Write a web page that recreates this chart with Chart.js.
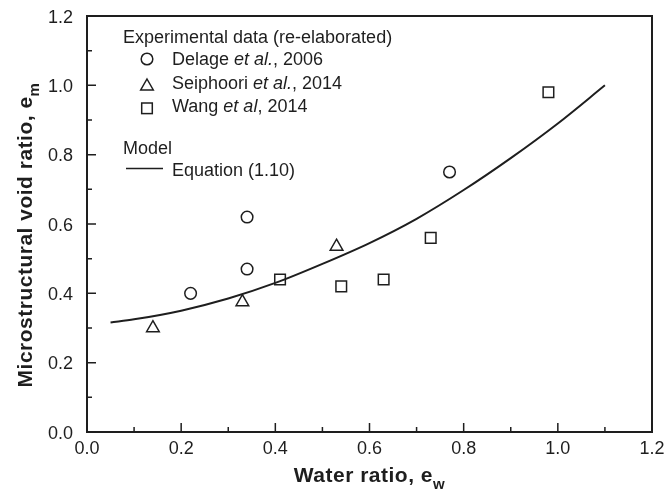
<!DOCTYPE html>
<html>
<head>
<meta charset="utf-8">
<script src="https://cdn.jsdelivr.net/npm/chart.js@4.4.1/dist/chart.umd.min.js"></script>
<style>
  html, body { margin: 0; padding: 0; background: #fff; }
  #wrap { width: 665px; height: 492px; }
</style>
</head>
<body>
<div id="wrap"><canvas id="voidChart"></canvas></div>
<script>
// experimental points
const delageX = [0.22, 0.34, 0.34, 0.77];
const delageY = [0.40, 0.62, 0.47, 0.75];
const seiphooriX = [0.14, 0.33, 0.53];
const seiphooriY = [0.30, 0.375, 0.535];
const wangX = [0.41, 0.54, 0.63, 0.73, 0.98];
const wangY = [0.44, 0.42, 0.44, 0.56, 0.98];

// model curve, Equation (1.10), sampled from the figure
const modelX = [0.05, 0.1, 0.2, 0.3, 0.4, 0.5, 0.6, 0.7, 0.8, 0.9, 1.0, 1.1];
const modelY = [0.316, 0.325, 0.350, 0.385, 0.430, 0.485, 0.545, 0.615, 0.698, 0.790, 0.890, 1.0];

const xTicks = [0.0, 0.2, 0.4, 0.6, 0.8, 1.0, 1.2];
const yTicks = [0.0, 0.2, 0.4, 0.6, 0.8, 1.0, 1.2];
const xMinor = [0.1, 0.3, 0.5, 0.7, 0.9, 1.1];
const yMinor = [0.1, 0.3, 0.5, 0.7, 0.9, 1.1];

const INK = '#1e1e1e';
const FONT = '"Liberation Sans", Arial, sans-serif';

const toPts = (xs, ys) => xs.map((x, i) => ({ x: x, y: ys[i] }));

const markerBase = {
    showLine: false,
    borderColor: INK,
    backgroundColor: '#fff',
    borderWidth: 1.5,
    pointHoverRadius: 6
};

// draws text pieces one after another, some italic
function drawRuns(ctx, runs, x, y, size) {
    runs.forEach(r => {
        ctx.font = (r.italic ? 'italic ' : '') + size + 'px ' + FONT;
        ctx.fillText(r.t, x, y);
        x += ctx.measureText(r.t).width;
    });
}

// bold title + subscript, centred on cx, baseline y
function drawTitle(ctx, main, sub, cx, y) {
    ctx.letterSpacing = '0.5px';
    ctx.font = 'bold 21px ' + FONT;
    const w1 = ctx.measureText(main).width;
    ctx.font = 'bold 15px ' + FONT;
    const w2 = ctx.measureText(sub).width;
    const sx = cx - (w1 + w2) / 2;
    ctx.font = 'bold 21px ' + FONT;
    ctx.fillText(main, sx, y);
    ctx.font = 'bold 15px ' + FONT;
    ctx.fillText(sub, sx + w1, y + 7);
    ctx.letterSpacing = '0px';
}

const framePlugin = {
    id: 'frame',
    afterDraw(chart) {
        const ctx = chart.ctx;
        const a = chart.chartArea;
        const xs = chart.scales.x, ys = chart.scales.y;
        ctx.save();
        ctx.strokeStyle = INK;
        ctx.fillStyle = INK;
        ctx.lineWidth = 2;
        ctx.strokeRect(a.left, a.top, a.right - a.left, a.bottom - a.top);

        // inward ticks
        ctx.lineWidth = 1.5;
        ctx.beginPath();
        xTicks.forEach(v => { const p = xs.getPixelForValue(v); ctx.moveTo(p, a.bottom); ctx.lineTo(p, a.bottom - 9); });
        xMinor.forEach(v => { const p = xs.getPixelForValue(v); ctx.moveTo(p, a.bottom); ctx.lineTo(p, a.bottom - 5); });
        yTicks.forEach(v => { const p = ys.getPixelForValue(v); ctx.moveTo(a.left, p); ctx.lineTo(a.left + 9, p); });
        yMinor.forEach(v => { const p = ys.getPixelForValue(v); ctx.moveTo(a.left, p); ctx.lineTo(a.left + 5, p); });
        ctx.stroke();

        // tick labels
        ctx.font = '18px ' + FONT;
        ctx.textAlign = 'center';
        ctx.textBaseline = 'alphabetic';
        xTicks.forEach(v => ctx.fillText(v.toFixed(1), xs.getPixelForValue(v), a.bottom + 22));
        ctx.textAlign = 'right';
        yTicks.forEach(v => ctx.fillText(v.toFixed(1), a.left - 14, ys.getPixelForValue(v) + 6.5));

        // axis titles
        ctx.textAlign = 'left';
        drawTitle(ctx, 'Water ratio, e', 'w', (a.left + a.right) / 2, 482);
        ctx.save();
        ctx.translate(32, 235);
        ctx.rotate(-Math.PI / 2);
        drawTitle(ctx, 'Microstructural void ratio, e', 'm', 0, 0);
        ctx.restore();

        // legend
        const lx = 123, mx = 147, tx = 172;
        ctx.font = '18px ' + FONT;
        ctx.fillText('Experimental data (re-elaborated)', lx, 43);
        drawRuns(ctx, [{ t: 'Delage ' }, { t: 'et al.', italic: true }, { t: ', 2006' }], tx, 65, 18);
        drawRuns(ctx, [{ t: 'Seiphoori ' }, { t: 'et al.', italic: true }, { t: ', 2014' }], tx, 89, 18);
        drawRuns(ctx, [{ t: 'Wang ' }, { t: 'et al', italic: true }, { t: ', 2014' }], tx, 112, 18);
        ctx.font = '18px ' + FONT;
        ctx.fillText('Model', lx, 154);
        ctx.fillText('Equation (1.10)', tx, 176);

        ctx.lineWidth = 1.5;
        ctx.beginPath();
        ctx.arc(mx, 59, 5.8, 0, Math.PI * 2);
        ctx.stroke();
        ctx.beginPath();
        ctx.moveTo(mx, 79); ctx.lineTo(mx + 6.3, 90); ctx.lineTo(mx - 6.3, 90); ctx.closePath();
        ctx.stroke();
        ctx.strokeRect(mx - 5.3, 103, 10.6, 10.6);
        ctx.beginPath();
        ctx.moveTo(126, 168.5); ctx.lineTo(163, 168.5);
        ctx.stroke();
        ctx.restore();
    }
};

new Chart(document.getElementById('voidChart'), {
    type: 'scatter',
    data: {
        datasets: [
            {
                label: 'Equation (1.10)',
                data: toPts(modelX, modelY),
                showLine: true,
                borderColor: INK,
                borderWidth: 2,
                pointRadius: 0,
                cubicInterpolationMode: 'monotone',
                fill: false
            },
            Object.assign({ label: 'Delage et al., 2006', data: toPts(delageX, delageY), pointStyle: 'circle', pointRadius: 5.8 }, markerBase),
            Object.assign({ label: 'Seiphoori et al., 2014', data: toPts(seiphooriX, seiphooriY), pointStyle: 'triangle', pointRadius: 7.3 }, markerBase),
            Object.assign({ label: 'Wang et al, 2014', data: toPts(wangX, wangY), pointStyle: 'rect', pointRadius: 7.5 }, markerBase)
        ]
    },
    options: {
        responsive: true,
        maintainAspectRatio: false,
        animation: false,
        layout: { padding: { left: 87, right: 13, top: 16, bottom: 60 } },
        plugins: {
            legend: { display: false },
            tooltip: { enabled: false }
        },
        scales: {
            x: { type: 'linear', min: 0, max: 1.2, display: false },
            y: { type: 'linear', min: 0, max: 1.2, display: false }
        }
    },
    plugins: [framePlugin]
});
</script>
</body>
</html>
